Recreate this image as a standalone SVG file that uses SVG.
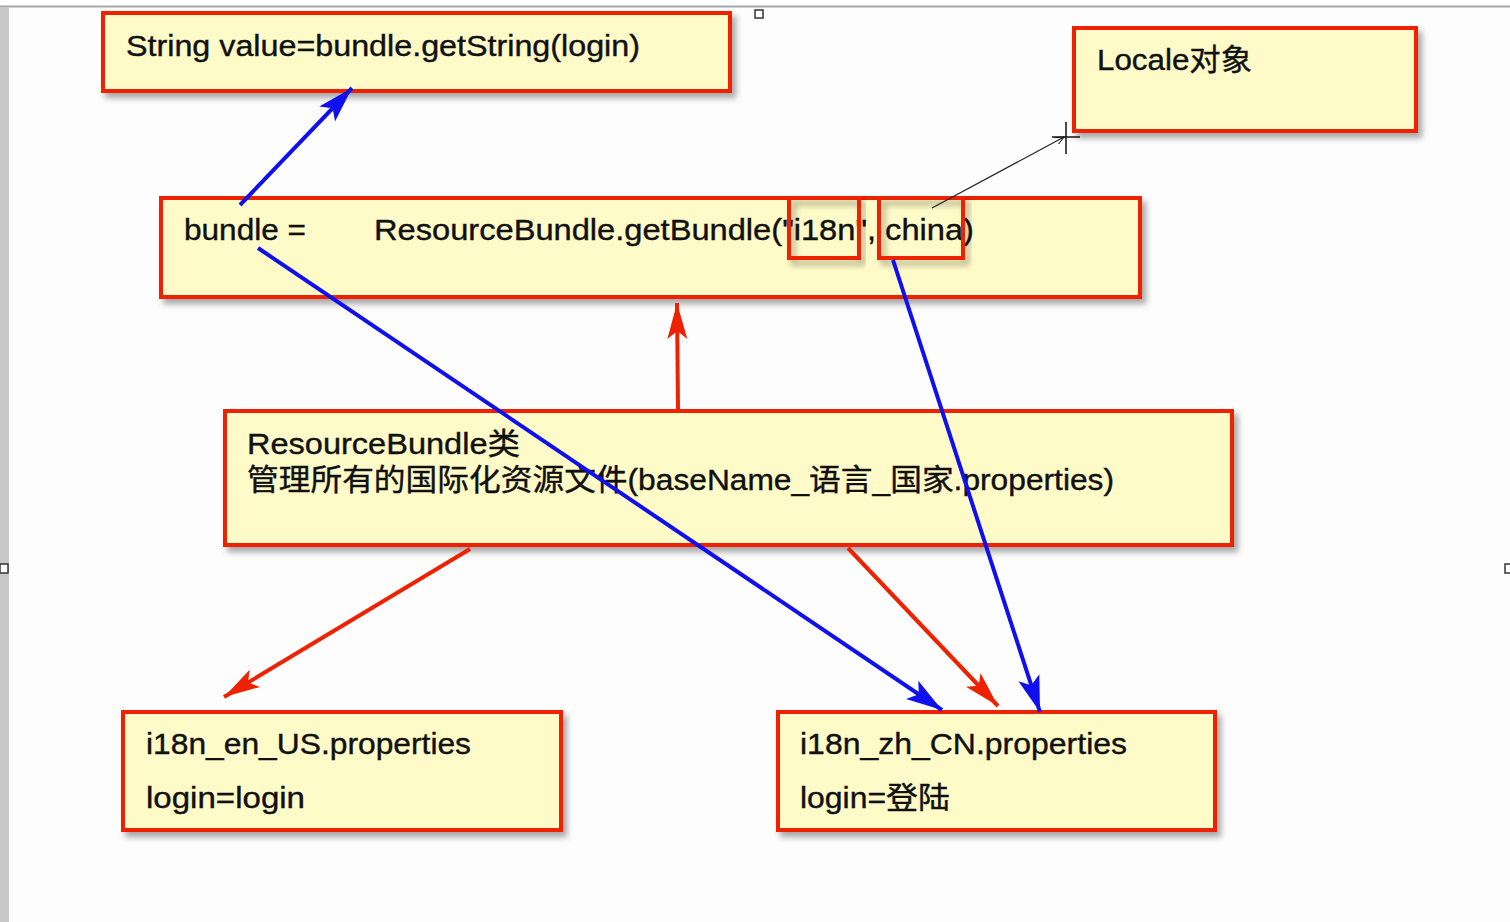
<svg xmlns="http://www.w3.org/2000/svg" width="1510" height="922" viewBox="0 0 1510 922">
<defs>
<filter id="sh" x="-5%" y="-10%" width="115%" height="130%"><feDropShadow dx="4" dy="5" stdDeviation="3" flood-color="#000" flood-opacity="0.35"/></filter>
<marker id="ab" markerUnits="userSpaceOnUse" markerWidth="40" markerHeight="30" refX="36" refY="15" orient="auto"><path d="M0,4 L36,15 L0,26 L8,15 Z" fill="#1010ee"/></marker>
<marker id="ar" markerUnits="userSpaceOnUse" markerWidth="40" markerHeight="30" refX="36" refY="15" orient="auto"><path d="M0,5 L36,15 L0,25 L8,15 Z" fill="#ee2200"/></marker>
<marker id="ak" markerUnits="userSpaceOnUse" markerWidth="10" markerHeight="8" refX="9" refY="4" orient="auto"><path d="M0,0 L9,4 L0,8" fill="none" stroke="#222" stroke-width="1"/></marker>
</defs>
<style>
.box{fill:#fffbc8;stroke:#ee2200;stroke-width:4}
.hl{fill:none;stroke:#ee2200;stroke-width:4}
.t{font-family:"Liberation Sans","Noto Sans CJK SC",sans-serif;font-size:30px;fill:#111;stroke:#111;stroke-width:0.4}
.b{stroke:#1010ee;stroke-width:4;fill:none}
.r{stroke:#ee2200;stroke-width:4;fill:none}
</style>
<rect width="1510" height="922" fill="#fdfdfd"/>
<rect x="0" y="0" width="1510" height="6" fill="#ffffff"/>
<line x1="0" y1="6.5" x2="1510" y2="6.5" stroke="#a8a8a8" stroke-width="2"/>
<rect x="0" y="7" width="9" height="915" fill="#c8c8c8"/>
<rect x="755" y="10" width="8" height="8" fill="#fff" stroke="#333" stroke-width="1.5"/>
<rect x="0" y="564" width="8" height="9" fill="#fff" stroke="#333" stroke-width="1.5"/>
<rect x="1505" y="564" width="8" height="9" fill="#fff" stroke="#333" stroke-width="1.5"/>

<g id="node-getstring"><rect class="box" filter="url(#sh)" x="103" y="13" width="627" height="78"/><text class="t" x="126" y="56" textLength="514" lengthAdjust="spacingAndGlyphs">String value=bundle.getString(login)</text></g>
<g id="node-locale"><rect class="box" filter="url(#sh)" x="1074" y="28" width="342" height="103"/><text class="t" x="1097" y="70" textLength="155" lengthAdjust="spacingAndGlyphs">Locale对象</text></g>
<g id="node-bundle"><rect class="box" filter="url(#sh)" x="161" y="198" width="979" height="99"/><text class="t" x="184" y="240" textLength="122" lengthAdjust="spacingAndGlyphs">bundle =</text><text class="t" x="374" y="240" textLength="600" lengthAdjust="spacingAndGlyphs">ResourceBundle.getBundle("i18n", china)</text><rect class="hl" filter="url(#sh)" x="789" y="198" width="70" height="60"/><rect class="hl" filter="url(#sh)" x="879" y="198" width="84" height="60"/></g>
<g id="node-resourcebundle"><rect class="box" filter="url(#sh)" x="225" y="411" width="1007" height="134"/><text class="t" x="247" y="454" textLength="273" lengthAdjust="spacingAndGlyphs">ResourceBundle类</text><text class="t" x="247" y="490" textLength="867" lengthAdjust="spacingAndGlyphs">管理所有的国际化资源文件(baseName_语言_国家.properties)</text></g>
<g id="node-en"><rect class="box" filter="url(#sh)" x="123" y="712" width="438" height="118"/><text class="t" x="146" y="754" textLength="325" lengthAdjust="spacingAndGlyphs">i18n_en_US.properties</text><text class="t" x="146" y="808" textLength="159" lengthAdjust="spacingAndGlyphs">login=login</text></g>
<g id="node-zh"><rect class="box" filter="url(#sh)" x="778" y="712" width="437" height="118"/><text class="t" x="800" y="754" textLength="327" lengthAdjust="spacingAndGlyphs">i18n_zh_CN.properties</text><text class="t" x="800" y="808" textLength="150" lengthAdjust="spacingAndGlyphs">login=登陆</text></g>

<g id="connectors">
<line class="b" x1="240" y1="205" x2="352" y2="88" marker-end="url(#ab)"/>
<line class="b" x1="258" y1="248" x2="942" y2="710" marker-end="url(#ab)"/>
<line class="b" x1="893" y1="260" x2="1040" y2="712" marker-end="url(#ab)"/>
<line class="r" x1="678" y1="410" x2="677" y2="303" marker-end="url(#ar)"/>
<line class="r" x1="470" y1="549" x2="224" y2="697" marker-end="url(#ar)"/>
<line class="r" x1="848" y1="548" x2="998" y2="706" marker-end="url(#ar)"/>
<line x1="932" y1="208" x2="1064" y2="137" stroke="#222" stroke-width="1.2" marker-end="url(#ak)"/>
<path d="M1066,122 V154 M1052,137 H1080" stroke="#111" stroke-width="1.5" fill="none"/>
</g>
</svg>
